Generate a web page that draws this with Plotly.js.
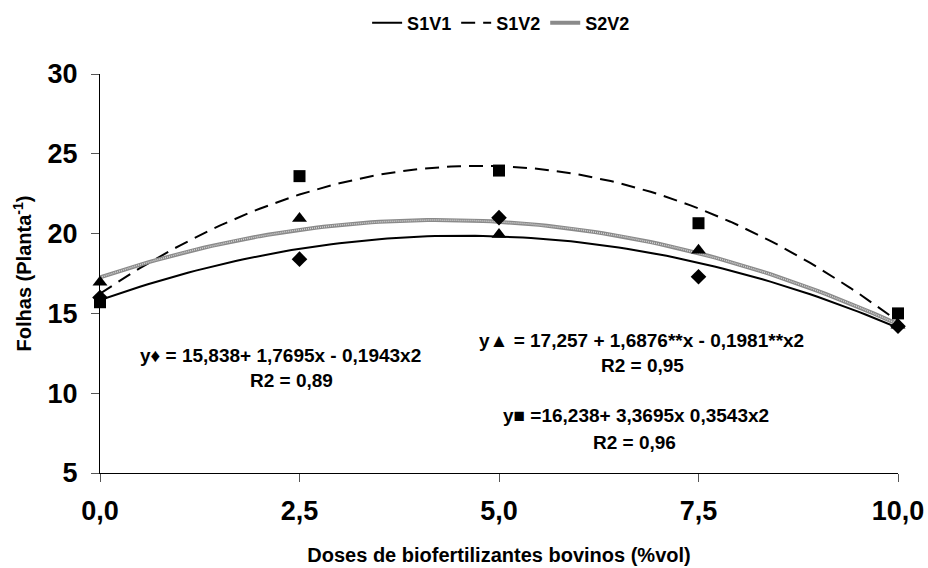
<!DOCTYPE html>
<html>
<head>
<meta charset="utf-8">
<script src="https://cdn.plot.ly/plotly-3.0.1.min.js"></script>
<style>html,body{margin:0;padding:0;background:#fff;}#chart{width:928px;height:568px;}</style>
</head>
<body>
<div id="chart"></div>
<script>
// Doses (x)
const doses = [0, 2.5, 5, 7.5, 10];
const xTickVals = [0, 2.5, 5, 7.5, 10];
const xTickText = ["0,0", "2,5", "5,0", "7,5", "10,0"];
const yTickVals = [5, 10, 15, 20, 25, 30];

// Observed points
const s1v1Obs = [16.0, 18.4, 21.0, 17.3, 14.2];      // diamonds
const s1v2Obs = [15.7, 23.6, 23.95, 20.65, 15.0];    // squares
const s2v2Obs = [16.95, 20.95, 19.95, 18.95, 14.25]; // triangles

// Regression coefficients printed on the chart (a + b x + c x^2)
const s1v1Coef = [15.838, 1.7695, -0.1943];
const s1v2Coef = [16.238, 3.3695, -0.3543];
const s2v2Coef = [17.257, 1.6876, -0.1981];

const seriesNames = ["S1V1", "S1V2", "S2V2"];

const curveX = [];
for (let i = 0; i <= 100; i++) curveX.push(i / 10);
const poly = c => curveX.map(x => c[0] + c[1] * x + c[2] * x * x);

const FONT = "Liberation Sans, Arial, sans-serif";

const traces = [
  {x: curveX, y: poly(s1v1Coef), mode: "lines", name: seriesNames[0],
   line: {color: "#000", width: 2}, hoverinfo: "skip"},
  {x: curveX, y: poly(s1v2Coef), mode: "lines", name: seriesNames[1],
   line: {color: "#000", width: 2, dash: "14px,8px"}, hoverinfo: "skip"},
  {x: curveX, y: poly(s2v2Coef), mode: "lines", name: seriesNames[2],
   line: {color: "#8a8a8a", width: 4}, hoverinfo: "skip"},
  {x: curveX, y: poly(s2v2Coef), mode: "lines", showlegend: false,
   line: {color: "#d6d6d6", width: 1.5, dash: "1px,1px"}, hoverinfo: "skip"},
  {x: doses, y: s1v1Obs, mode: "markers", showlegend: false, cliponaxis: false,
   marker: {symbol: "diamond", size: 12, color: "#000"}},
  {x: doses, y: s1v2Obs, mode: "markers", showlegend: false, cliponaxis: false,
   marker: {symbol: "square", size: 12, color: "#000"}},
  {x: doses, y: s2v2Obs, mode: "markers", showlegend: false, cliponaxis: false,
   marker: {symbol: "triangle-up", size: 13, color: "#000"}}
];

const annFont = {family: FONT, size: 19, color: "#000", weight: "bold"};
const ann = (x, y, text) => ({xref: "paper", yref: "paper", x: x, y: y, text: text,
  showarrow: false, xanchor: "center", yanchor: "middle", font: annFont});
// paper coords: plot area x 100..898 (798 px), y 74..473 (399 px)
const px = v => (v - 100) / 798;
const py = v => (473 - v) / 399;

const layout = {
  width: 928, height: 568,
  margin: {l: 100, r: 30, t: 74, b: 95},
  paper_bgcolor: "#fff", plot_bgcolor: "#fff",
  showlegend: true,
  legend: {orientation: "h", xref: "container", yref: "container",
    x: 0.54, xanchor: "center", y: 1 - 23 / 568, yanchor: "middle",
    font: {family: FONT, size: 18, color: "#000", weight: "bold"},
    itemwidth: 30, tracegroupgap: 0, bgcolor: "rgba(0,0,0,0)"},
  xaxis: {range: [0, 10], tickvals: xTickVals, ticktext: xTickText,
    showgrid: false, zeroline: false, showline: true, linecolor: "#000", linewidth: 1,
    ticks: "outside", ticklen: 8, tickcolor: "#555", automargin: false,
    ticklabelstandoff: 6,
    tickfont: {family: FONT, size: 27, color: "#000", weight: "bold"},
    title: {text: "Doses de biofertilizantes bovinos (%vol)", standoff: 22,
      font: {family: FONT, size: 20, color: "#000", weight: "bold"}}},
  yaxis: {range: [5, 30], tickvals: yTickVals,
    showgrid: false, zeroline: false, showline: true, linecolor: "#000", linewidth: 1,
    ticks: "outside", ticklen: 8, tickcolor: "#555", automargin: false,
    ticklabelstandoff: 8,
    tickfont: {family: FONT, size: 27, color: "#000", weight: "bold"},
    title: {text: "Folhas (Planta<sup>-1</sup>)", standoff: 10,
      font: {family: FONT, size: 20, color: "#000", weight: "bold"}}},
  annotations: [
    ann(px(280), py(355), "y♦ = 15,838+ 1,7695x - 0,1943x2"),
    ann(px(291), py(380), "R2 = 0,89"),
    ann(px(641), py(340), "y▲ = 17,257 + 1,6876**x - 0,1981**x2"),
    ann(px(642), py(365), "R2 = 0,95"),
    ann(px(636), py(415), "y■ =16,238+ 3,3695x 0,3543x2"),
    ann(px(634), py(442), "R2 = 0,96")
  ]
};

Plotly.newPlot("chart", traces, layout, {displayModeBar: false, staticPlot: true});
</script>
</body>
</html>
